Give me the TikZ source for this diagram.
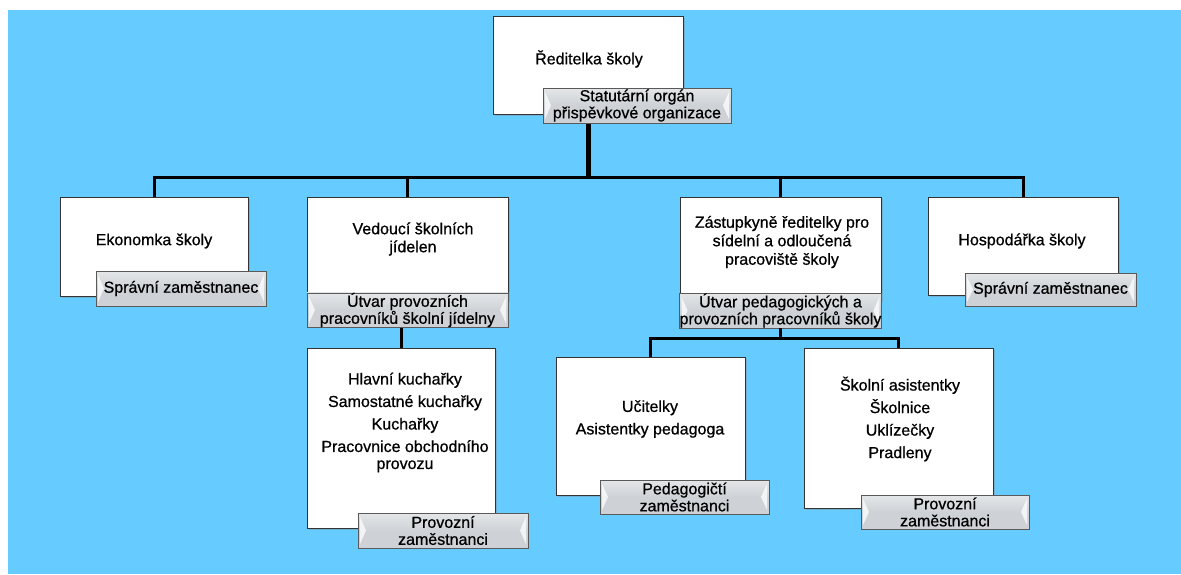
\documentclass[tikz,border=0pt]{standalone}
\usepackage{fontspec}
\setmainfont{Liberation Sans}[UprightFeatures={FakeBold=0.7}]
\usetikzlibrary{shadows}
\definecolor{pozadi}{RGB}{102,204,255}
\definecolor{stitek}{RGB}{206,210,214}

\begin{document}
\begin{tikzpicture}[x=1pt,y=-1pt,
    box/.style={draw=black!80,line width=0.8pt,fill=white,inner sep=0pt,
        drop shadow={shadow xshift=1.5pt,shadow yshift=-1.5pt,opacity=0.35}},
    tag/.style={draw=black!65,line width=0.8pt,top color=stitek!55,bottom color=stitek,
        middle color=stitek,inner sep=0pt,align=center,
        minimum height=34pt,font=\fontsize{16}{17}\selectfont,
        path picture={
            \fill[white,opacity=0.75] ([shift={(2pt,-4pt)}]path picture bounding box.north west)
                -- ([shift={(8pt,0pt)}]path picture bounding box.west)
                -- ([shift={(2pt,4pt)}]path picture bounding box.south west) -- cycle;
            \fill[white,opacity=0.75] ([shift={(-2pt,-4pt)}]path picture bounding box.north east)
                -- ([shift={(-8pt,0pt)}]path picture bounding box.east)
                -- ([shift={(-2pt,4pt)}]path picture bounding box.south east) -- cycle;
        }},
    txt/.style={inner sep=0pt,align=center,font=\fontsize{16}{22.5}\selectfont},
    spoj/.style={line width=3pt}]

    \useasboundingbox (0,0) rectangle (1181,574);
    \fill[pozadi] (8,10) rectangle (1181,574);

    \coordinate (bus) at (588,177);
    \coordinate (rozv) at (780,338);

    % boxes
    \node[box,minimum width=190pt,minimum height=98pt] (dir) at (588,65) {};
    \node[box,minimum width=188pt,minimum height=99pt] (ekon) at (154,246.5) {};
    \node[box,minimum width=201pt,minimum height=103pt] (ved) at (407.5,248.5) {};
    \node[box,minimum width=201pt,minimum height=103pt] (zast) at (780.5,248.5) {};
    \node[box,minimum width=190pt,minimum height=98pt] (hosp) at (1023,246) {};
    \node[box,minimum width=188pt,minimum height=180pt] (hlav) at (401,438) {};
    \node[box,minimum width=189pt,minimum height=138pt] (ucit) at (650.5,426) {};
    \node[box,minimum width=189pt,minimum height=160pt] (skol) at (898.5,428) {};

    % connectors
    \draw[spoj,line width=5pt] (bus) -- (bus |- dir.south);
    \draw[spoj] (ekon.north) |- (bus) -| (hosp.north);
    \draw[spoj] (bus) -| (ved.north);
    \draw[spoj] (bus) -| (zast.north);

    % texts
    \node[txt] (dirt) at (589,59) {Ředitelka školy};
    \node[txt] (ekont) at (154,241) {Ekonomka školy};
    \node[txt] (hospt) at (1022,241) {Hospodářka školy};
    \node[txt,font=\fontsize{16}{18}\selectfont] (vedt) at (413,239) {Vedoucí školních\\jídelen};
    \node[txt,font=\fontsize{16}{18.5}\selectfont] (zastt) at (782,242)
        {Zástupkyně ředitelky pro\\sídelní a odloučená\\pracoviště školy};
    \node[txt] (hlavt) at (405,422.5)
        {Hlavní kuchařky\\Samostatné kuchařky\\Kuchařky\\Pracovnice obchodního\\[-5.5pt]provozu};
    \node[txt] (ucitt) at (650,419) {Učitelky\\Asistentky pedagoga};
    \node[txt] (skolt) at (900,419) {Školní asistentky\\Školnice\\Uklízečky\\Pradleny};

    % labels
    \node[tag,minimum width=188pt,minimum height=35pt] (dirlab) at (637,105.5)
        {Statutární orgán\\přispěvkové organizace};
    \node[tag,minimum width=170pt,minimum height=35pt] (ekonlab) at (181,288.5) {Správní zaměstnanec};
    \node[tag,minimum width=201pt] (vedlab) at (407.5,310) {Útvar provozních\\pracovníků školní jídelny};
    \node[tag,minimum width=201pt,minimum height=35pt] (zastlab) at (780.5,310.5)
        {Útvar pedagogických a\\provozních pracovníků školy};
    \node[tag,minimum width=171pt,minimum height=33pt] (hosplab) at (1050.5,289.5) {Správní zaměstnanec};
    \node[tag,minimum width=170pt,minimum height=35pt] (hlavlab) at (443,530.5) {Provozní\\zaměstnanci};
    \node[tag,minimum width=169pt] (ucitlab) at (684.5,497) {Pedagogičtí\\zaměstnanci};
    \node[tag,minimum width=168pt] (skollab) at (945,512) {Provozní\\zaměstnanci};

    % lower connectors
    \draw[spoj] (vedlab.south -| hlav.north) -- (hlav.north);
    \draw[spoj] (zastlab.south) -- (zastlab.south |- rozv);
    \draw[spoj] (ucit.north) |- (rozv) -| (skol.north);

\end{tikzpicture}
\end{document}
